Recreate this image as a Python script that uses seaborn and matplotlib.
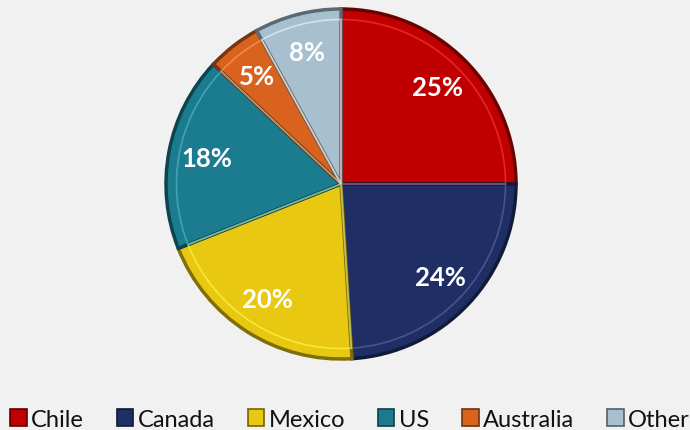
import matplotlib
matplotlib.use("Agg")
import matplotlib.pyplot as plt
import matplotlib.colors as mcolors
from matplotlib.patches import Patch
import seaborn as sns

# chart data
countries = ["Chile", "Canada", "Mexico", "US", "Australia", "Other"]
shares = [25, 24, 20, 18, 5, 8]
slice_colors = ["#c00000", "#1f2f66", "#e8c810", "#1b7b8f", "#d9631e", "#a8bfcf"]

sns.set_theme(style="white")
plt.rcParams["font.family"] = ["Lato", "DejaVu Sans"]

bg = "#f1f1f1"
fig = plt.figure(figsize=(6.9, 4.31), dpi=100, facecolor=bg)

# pie axes placed so the disc sits at the reference center
cx, cy, r = 341, 185, 175
ax = fig.add_axes([(cx - r) / 690, (431 - cy - r) / 431, 2 * r / 690, 2 * r / 431])
ax.set_facecolor(bg)

def darker(c, f=0.6):
    rgb = mcolors.to_rgb(c)
    return tuple(v * f for v in rgb)

wedges, texts, autotexts = ax.pie(
    shares,
    colors=slice_colors,
    startangle=90,
    counterclock=False,
    radius=1.0,
    autopct=lambda p: f"{p:.0f}%",
    pctdistance=0.78,
    wedgeprops=dict(linewidth=2.5),
    textprops=dict(color="white", fontsize=18.5, fontweight="bold"),
)
for w, c in zip(wedges, slice_colors):
    w.set_edgecolor(darker(c, 0.55))

# inner lighter bevel to mimic the 3D look
bevel, _ = ax.pie(
    shares,
    colors=["none"] * len(shares),
    startangle=90,
    counterclock=False,
    radius=0.94,
    wedgeprops=dict(linewidth=1.2, fill=False),
)
for w, c in zip(bevel, slice_colors):
    rgb = mcolors.to_rgb(c)
    w.set_edgecolor(tuple(min(1, v + 0.25) for v in rgb))
    w.set_alpha(0.6)

ax.set_xlim(-1.0, 1.0)
ax.set_ylim(-1.0, 1.0)
ax.set_aspect("equal")
ax.axis("off")

handles = [Patch(facecolor=c, edgecolor=darker(c, 0.5), linewidth=1.2) for c in slice_colors]
fig.legend(
    handles, countries,
    loc="lower left", bbox_to_anchor=(10 / 690, 0.0),
    ncol=6, frameon=False, fontsize=17, labelcolor="#111111",
    borderpad=0.0, borderaxespad=0.0,
    handlelength=0.7, handleheight=0.7, handletextpad=0.2,
    columnspacing=1.38,
)

fig.savefig("out.png", dpi=100, facecolor=bg)
